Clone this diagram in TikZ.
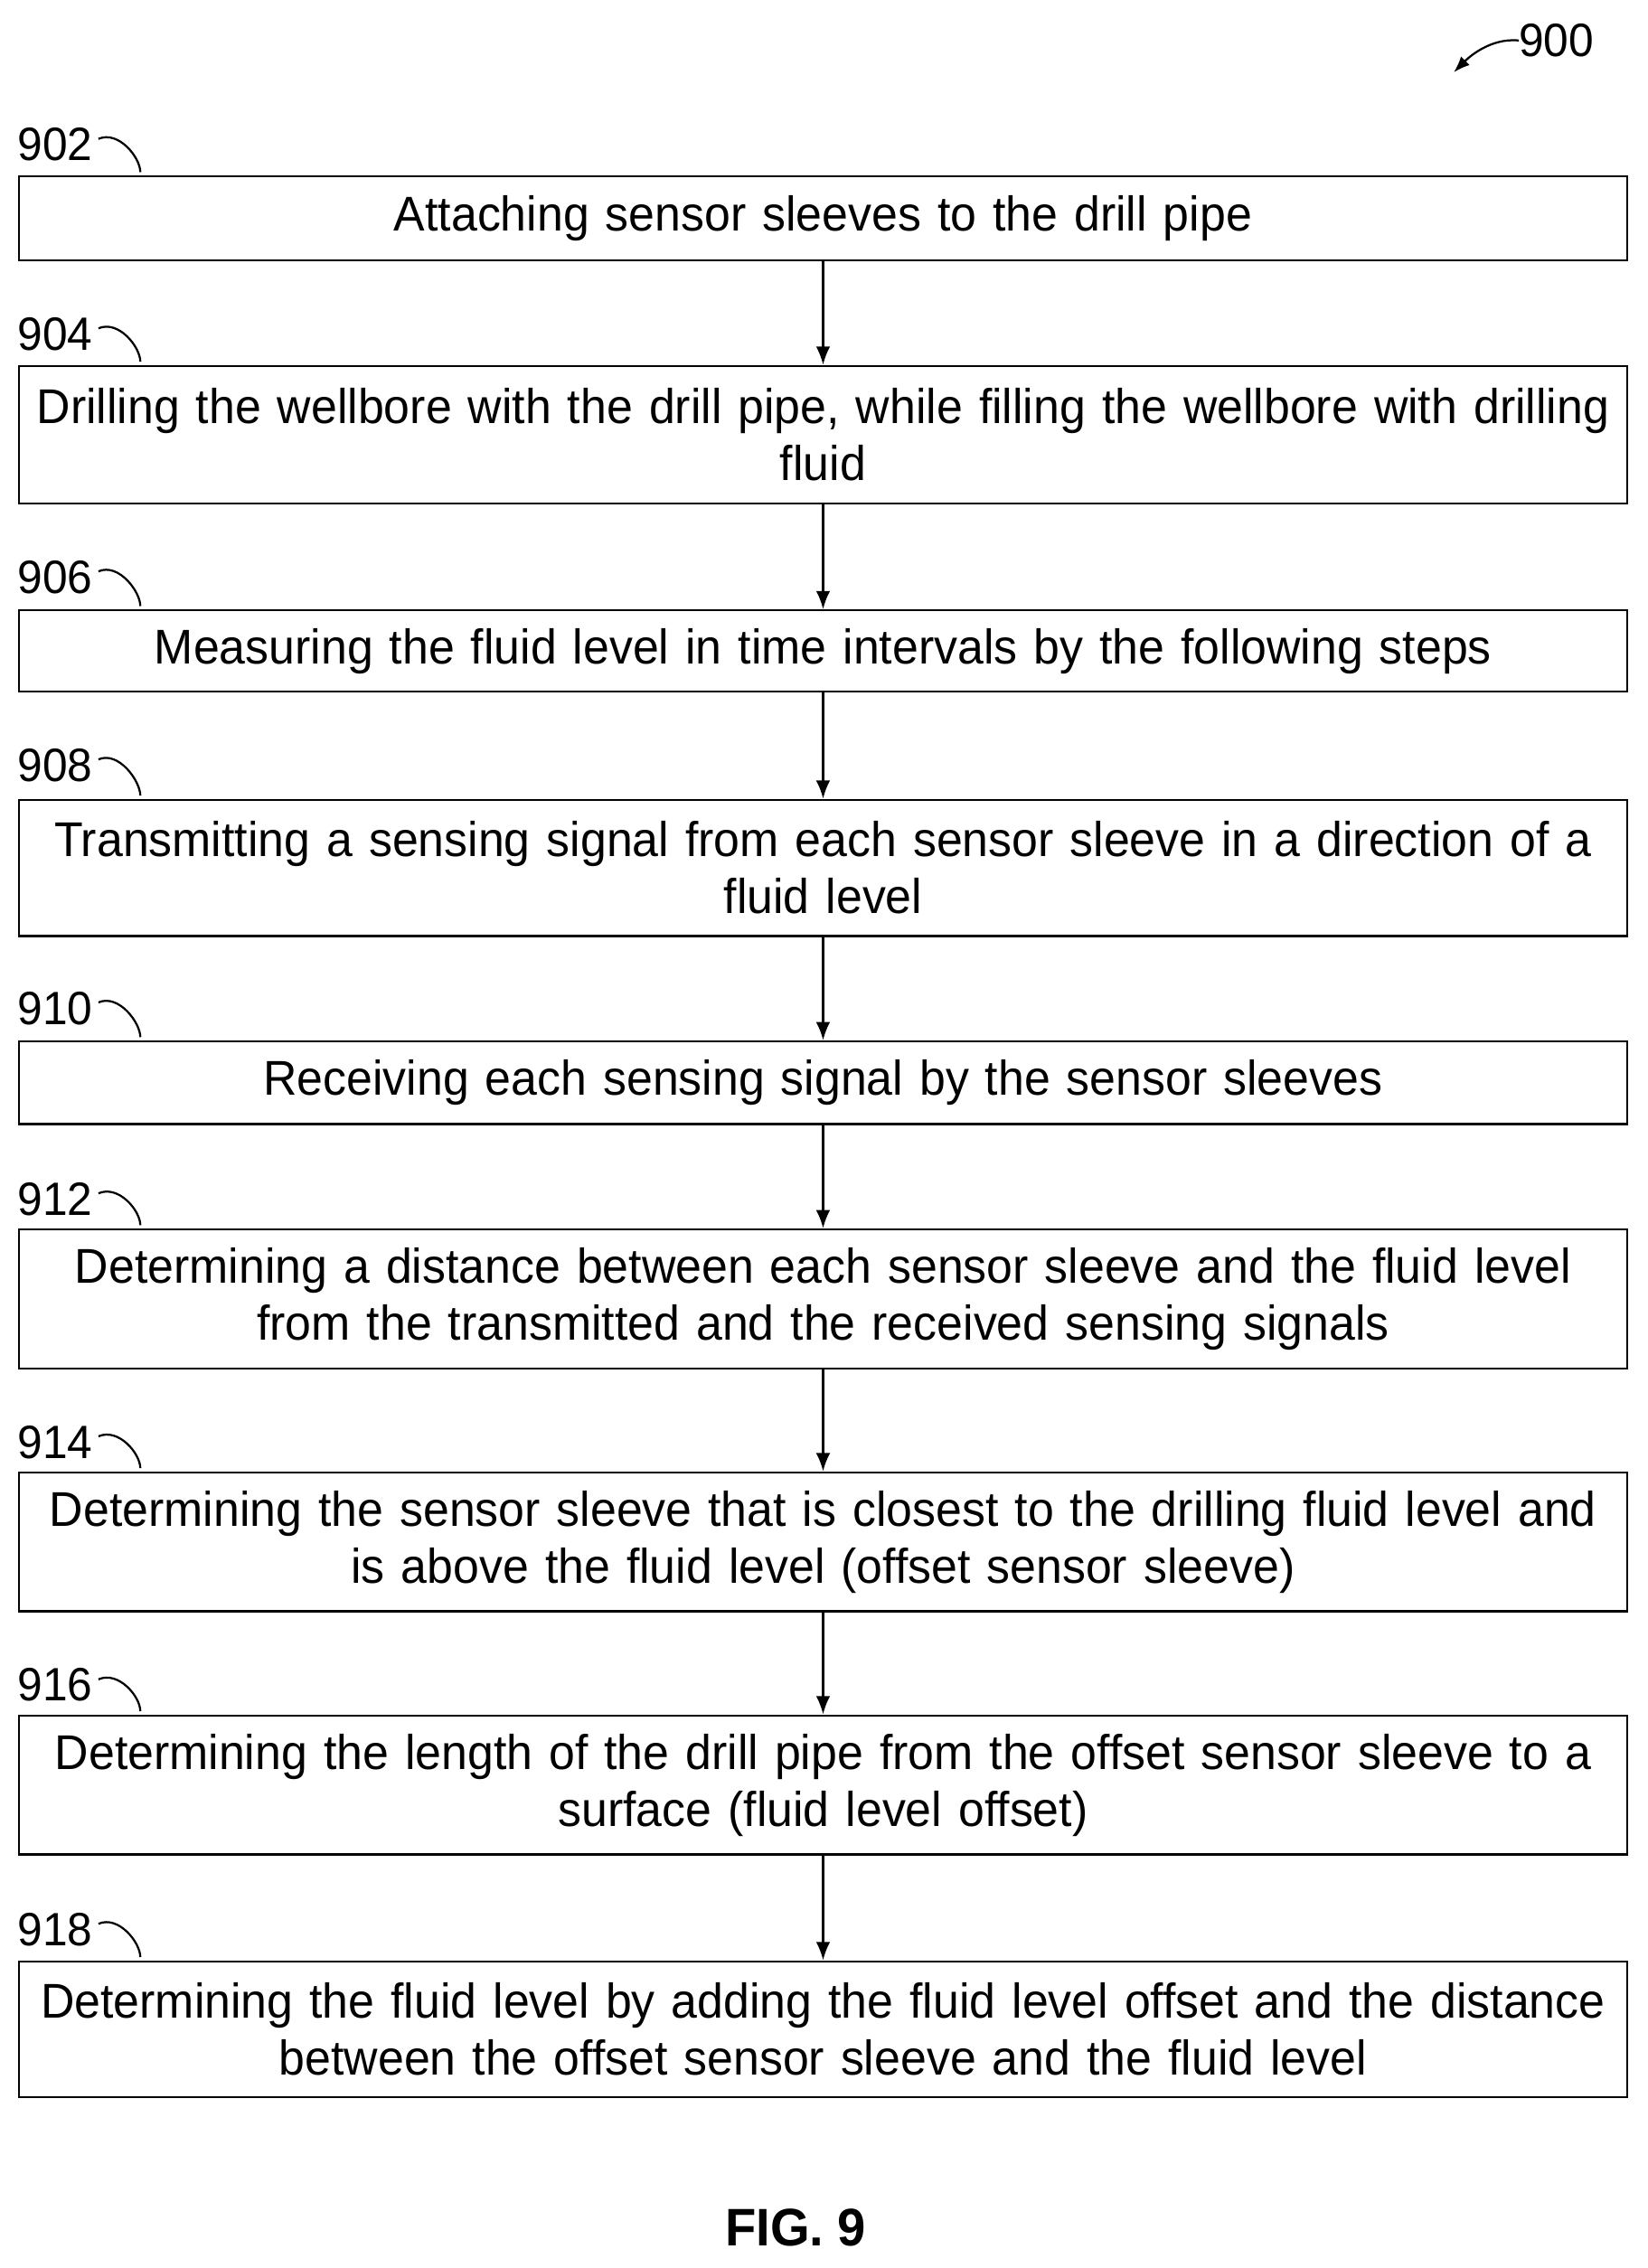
\documentclass[tikz,border=0pt]{standalone}
\usepackage{fontspec}
\setmainfont{Liberation Sans}
\newfontfamily\narrowfont[FakeStretch=0.96]{Liberation Sans}
\usetikzlibrary{arrows.meta}
\begin{document}
\begin{tikzpicture}[x=0.05cm,y=-0.05cm,
  stepbox/.style={draw,line width=2.2pt,minimum width=1112*0.05cm,text width=1110*0.05cm,align=center,inner sep=0pt,font=\narrowfont\fontsize{48}{56}\selectfont},
  lbl/.style={anchor=west,inner sep=0pt,font=\narrowfont\fontsize{46}{50}\selectfont},
  arr/.style={-{Latex[length=18pt,width=14pt]},line width=2.2pt},
  lead/.style={line width=2pt}]
\useasboundingbox (0,0) rectangle (1139,1568);
\def\B#1#2#3#4#5{%
  \node[stepbox,minimum height=(#3-#2)*0.05cm] (b#1) at (569,{(#2+#3)/2}) {#5};
  \node[lbl] (l#1) at (12,#4) {#1};
  \draw[lead] (l#1.east) ++(4,-4) coordinate (s#1) .. controls ++(14,-6) and ++(0,-10) .. (97,{#2-3});
}
\B{902}{122}{180}{100}{Attaching sensor sleeves to the drill pipe}
\B{904}{253}{348}{231}{Drilling the wellbore with the drill pipe, while filling the wellbore with drilling\\ fluid}
\B{906}{422}{478}{399}{Measuring the fluid level in time intervals by the following steps}
\B{908}{553}{647}{529}{Transmitting a sensing signal from each sensor sleeve in a direction of a\\ fluid level}
\B{910}{720}{777}{697}{Receiving each sensing signal by the sensor sleeves}
\B{912}{850}{946}{829}{Determining a distance between each sensor sleeve and the fluid level\\ from the transmitted and the received sensing signals}
\B{914}{1018}{1114}{997}{Determining the sensor sleeve that is closest to the drilling fluid level and\\ is above the fluid level (offset sensor sleeve)}
\B{916}{1186}{1282}{1165}{Determining the length of the drill pipe from the offset sensor sleeve to a\\ surface (fluid level offset)}
\B{918}{1356}{1450}{1334}{Determining the fluid level by adding the fluid level offset and the distance\\ between the offset sensor sleeve and the fluid level}
\draw[arr] (b902) -- (b904);
\draw[arr] (b904) -- (b906);
\draw[arr] (b906) -- (b908);
\draw[arr] (b908) -- (b910);
\draw[arr] (b910) -- (b912);
\draw[arr] (b912) -- (b914);
\draw[arr] (b914) -- (b916);
\draw[arr] (b916) -- (b918);
\node[lbl] (n900) at (1050,28) {900};
\coordinate (t900) at (1005,50);
\draw[-{Latex[length=16pt,width=12pt]},line width=2pt] (n900.west) .. controls ++(-20,-2) and ++(10,-10) .. (t900);
\node[font=\narrowfont\fontsize{52}{56}\selectfont\bfseries] (fig) at (550,1540) {FIG. 9};
\end{tikzpicture}
\end{document}
